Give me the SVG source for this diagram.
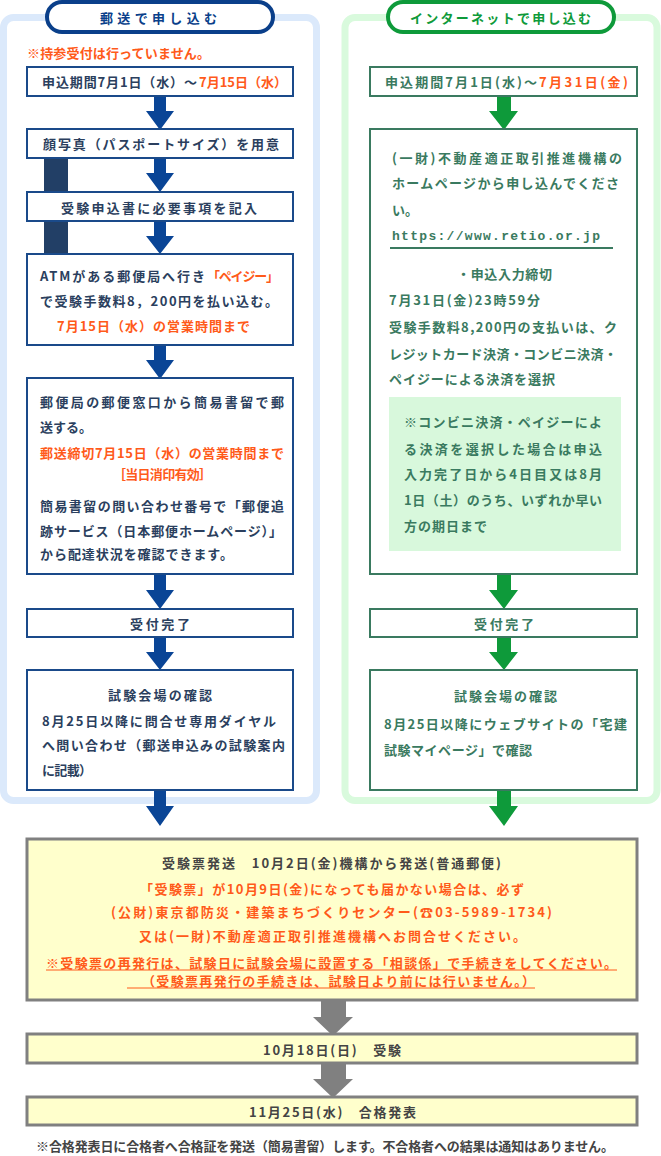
<svg xmlns="http://www.w3.org/2000/svg" width="661" height="1156" viewBox="0 0 661 1156">
<style>
.t{font-family:"Noto Sans CJK JP","Noto Sans",sans-serif;font-weight:bold;font-size:13px;dominant-baseline:central}
.nv{fill:#2b3f5e}.or{fill:#ff5a1a}.gr{fill:#3a7a60}.gy{fill:#444}
.bb{fill:#fff;stroke:#1a4a8a;stroke-width:2}
.gb{fill:#fff;stroke:#3a7a60;stroke-width:2}
.yb{fill:#ffffcc;stroke:#808080;stroke-width:3}
.ab{fill:#0a4596}.ag{fill:#0e9a3a}.ay{fill:#808080}
</style>
<g id="panels">
<rect x="3.5" y="17.5" width="313" height="783" rx="10" fill="#fff" stroke="#dbe9fb" stroke-width="7"/>
<rect x="345" y="17.5" width="312" height="783" rx="10" fill="#fff" stroke="#d9fadd" stroke-width="7"/>
<rect x="44" y="159" width="24" height="32" fill="#223f66"/>
<rect x="44" y="222" width="24" height="31" fill="#223f66"/>
</g>
<g id="connectors">
<polygon class="ab" points="154,97 166,97 166,111 174,111 160,130 146,111 154,111"/>
<polygon class="ab" points="154,159 166,159 166,173 174,173 160,192 146,173 154,173"/>
<polygon class="ab" points="154,222 166,222 166,236 174,236 160,254 146,236 154,236"/>
<polygon class="ab" points="154,346 166,346 166,360 174,360 160,379 146,360 154,360"/>
<polygon class="ab" points="154,575 166,575 166,590 174,590 160,609 146,590 154,590"/>
<polygon class="ab" points="154,638 166,638 166,652 174,652 160,670 146,652 154,652"/>
<polygon class="ab" points="154,791 166,791 166,806 174,806 160,826 146,806 154,806"/>
<polygon class="ag" points="497,97 511,97 511,111 518,111 504,130 489,111 497,111"/>
<polygon class="ag" points="497,575 511,575 511,590 518,590 504,609 489,590 497,590"/>
<polygon class="ag" points="497,638 511,638 511,652 518,652 504,670 489,652 497,652"/>
<polygon class="ag" points="497,791 511,791 511,806 518,806 504,826 489,806 497,806"/>
<polygon class="ay" points="321,1001 346,1001 346,1017 353,1017 333,1036 313,1017 321,1017"/>
<polygon class="ay" points="321,1064 346,1064 346,1079 353,1079 333,1098 313,1079 321,1079"/>
</g>
<g id="mail-header">
<rect x="47" y="2" width="226" height="30" rx="15" fill="#fff" stroke="#0a3f8a" stroke-width="4"/>
<text class="t" x="100" y="17" font-size="15" fill="#0a3f8a" textLength="117">郵送で申し込む</text>
</g>
<g id="mail-note">
<text class="t or" x="27" y="52" font-size="12" textLength="183">※持参受付は行っていません。</text>
</g>
<g id="mail-1">
<rect class="bb" x="27" y="67" width="266" height="29"/>
<text class="t nv" x="42" y="81" textLength="155">申込期間7月1日（水）～</text>
<text class="t or" x="199" y="81" textLength="88">7月15日（水）</text>
</g>
<g id="mail-2">
<rect class="bb" x="27" y="129" width="266" height="29"/>
<text class="t nv" x="43" y="143" textLength="236">顔写真（パスポートサイズ）を用意</text>
</g>
<g id="mail-3">
<rect class="bb" x="27" y="192" width="266" height="29"/>
<text class="t nv" x="61" y="207" textLength="196">受験申込書に必要事項を記入</text>
</g>
<g id="mail-4">
<rect class="bb" x="27" y="254" width="266" height="91"/>
<text class="t nv" x="40" y="275" textLength="165">ATMがある郵便局へ行き</text>
<text class="t or" x="207" y="275" textLength="72">「ペイジー」</text>
<text class="t nv" x="40" y="300" textLength="238">で受験手数料8，200円を払い込む。</text>
<text class="t or" x="57" y="325" textLength="193">7月15日（水）の営業時間まで</text>
</g>
<g id="mail-5">
<rect class="bb" x="27" y="378" width="266" height="196"/>
<text class="t nv" x="40" y="401" textLength="244">郵便局の郵便窓口から簡易書留で郵</text>
<text class="t nv" x="40" y="426" textLength="52">送する。</text>
<text class="t or" x="40" y="452" textLength="244">郵送締切7月15日（水）の営業時間まで</text>
<text class="t or" x="113" y="473" textLength="99">［当日消印有効］</text>
<text class="t nv" x="40" y="505" textLength="244">簡易書留の問い合わせ番号で「郵便追</text>
<text class="t nv" x="40" y="530" textLength="242">跡サービス（日本郵便ホームページ）」</text>
<text class="t nv" x="40" y="553" textLength="193">から配達状況を確認できます。</text>
</g>
<g id="mail-6">
<rect class="bb" x="27" y="609" width="266" height="28"/>
<text class="t nv" x="130" y="623" textLength="60">受付完了</text>
</g>
<g id="mail-7">
<rect class="bb" x="27" y="670" width="266" height="120"/>
<text class="t nv" x="108" y="694" textLength="104">試験会場の確認</text>
<text class="t nv" x="42" y="720" textLength="234">8月25日以降に問合せ専用ダイヤル</text>
<text class="t nv" x="42" y="744" textLength="243">へ問い合わせ（郵送申込みの試験案内</text>
<text class="t nv" x="42" y="769" textLength="50">に記載）</text>
</g>
<g id="net-header">
<rect x="388" y="2" width="226" height="30" rx="15" fill="#fff" stroke="#0e9a3a" stroke-width="4"/>
<text class="t" x="410" y="17" font-size="15" fill="#0e9a3a" textLength="181">インターネットで申し込む</text>
</g>
<g id="net-1">
<rect class="gb" x="370" y="67" width="267" height="29"/>
<text class="t gr" x="385" y="81" textLength="152">申込期間7月1日(水)～</text>
<text class="t or" x="539" y="81" textLength="89">7月31日(金)</text>
</g>
<g id="net-2">
<rect class="gb" x="370" y="129" width="267" height="445"/>
<text class="t gr" x="392" y="157" textLength="230">(一財)不動産適正取引推進機構の</text>
<text class="t gr" x="392" y="182" textLength="227">ホームページから申し込んでくださ</text>
<text class="t gr" x="392" y="209" textLength="26">い。</text>
<text class="t gr" x="392" y="236" font-family="Liberation Mono" font-size="14" textLength="208" style="font-family:'Liberation Mono',monospace">https://www.retio.or.jp</text>
<line x1="390" y1="248" x2="613" y2="248" stroke="#3a7a60" stroke-width="2"/>
<text class="t gr" x="457" y="273" textLength="95">・申込入力締切</text>
<text class="t gr" x="389" y="299" textLength="151">7月31日(金)23時59分</text>
<text class="t gr" x="389" y="326" textLength="228">受験手数料8,200円の支払いは、ク</text>
<text class="t gr" x="389" y="353" textLength="228">レジットカード決済・コンビニ決済・</text>
<text class="t gr" x="389" y="378" textLength="166">ペイジーによる決済を選択</text>
<rect x="389" y="397" width="232" height="154" fill="#d8f8dc"/>
<text class="t gr" x="404" y="421" textLength="198">※コンビニ決済・ペイジーによ</text>
<text class="t gr" x="404" y="448" textLength="198">る決済を選択した場合は申込</text>
<text class="t gr" x="404" y="473" textLength="198">入力完了日から4日目又は8月</text>
<text class="t gr" x="404" y="499" textLength="198">1日（土）のうち、いずれか早い</text>
<text class="t gr" x="404" y="525" textLength="83">方の期日まで</text>
</g>
<g id="net-3">
<rect class="gb" x="370" y="609" width="267" height="28"/>
<text class="t gr" x="474" y="623" textLength="60">受付完了</text>
</g>
<g id="net-4">
<rect class="gb" x="370" y="670" width="267" height="120"/>
<text class="t gr" x="454" y="695" textLength="103">試験会場の確認</text>
<text class="t gr" x="384" y="723" textLength="243">8月25日以降にウェブサイトの「宅建</text>
<text class="t gr" x="384" y="749" textLength="148">試験マイページ」で確認</text>
</g>
<g id="ticket">
<rect class="yb" x="27" y="839" width="610" height="161"/>
<text class="t gy" x="162" y="862" textLength="339">受験票発送　10月2日(金)機構から発送(普通郵便)</text>
<text class="t or" x="140" y="888" textLength="384">「受験票」が10月9日(金)になっても届かない場合は、必ず</text>
<text class="t or" x="111" y="911" textLength="441">(公財)東京都防災・建築まちづくりセンター(☎03-5989-1734)</text>
<text class="t or" x="139" y="935" textLength="387">又は(一財)不動産適正取引推進機構へお問合せください。</text>
<text class="t or" x="46" y="962" textLength="571">※受験票の再発行は、試験日に試験会場に設置する「相談係」で手続きをしてください。</text>
<line x1="46" y1="970" x2="617" y2="970" stroke="#ff5a1a" stroke-width="1"/>
<text class="t or" x="142" y="980" textLength="393">（受験票再発行の手続きは、試験日より前には行いません。）</text>
<line x1="127" y1="988" x2="535" y2="988" stroke="#ff5a1a" stroke-width="1"/>
</g>
<g id="exam">
<rect class="yb" x="27" y="1034" width="610" height="29"/>
<text class="t gy" x="263" y="1049" textLength="138">10月18日(日)　受験</text>
</g>
<g id="result">
<rect class="yb" x="27" y="1097" width="610" height="28"/>
<text class="t gy" x="249" y="1111" textLength="167">11月25日(水)　合格発表</text>
</g>
<g id="footnote">
<text class="t gy" x="36" y="1145" font-size="12" textLength="578">※合格発表日に合格者へ合格証を発送（簡易書留）します。不合格者への結果は通知はありません。</text>
</g>
</svg>
